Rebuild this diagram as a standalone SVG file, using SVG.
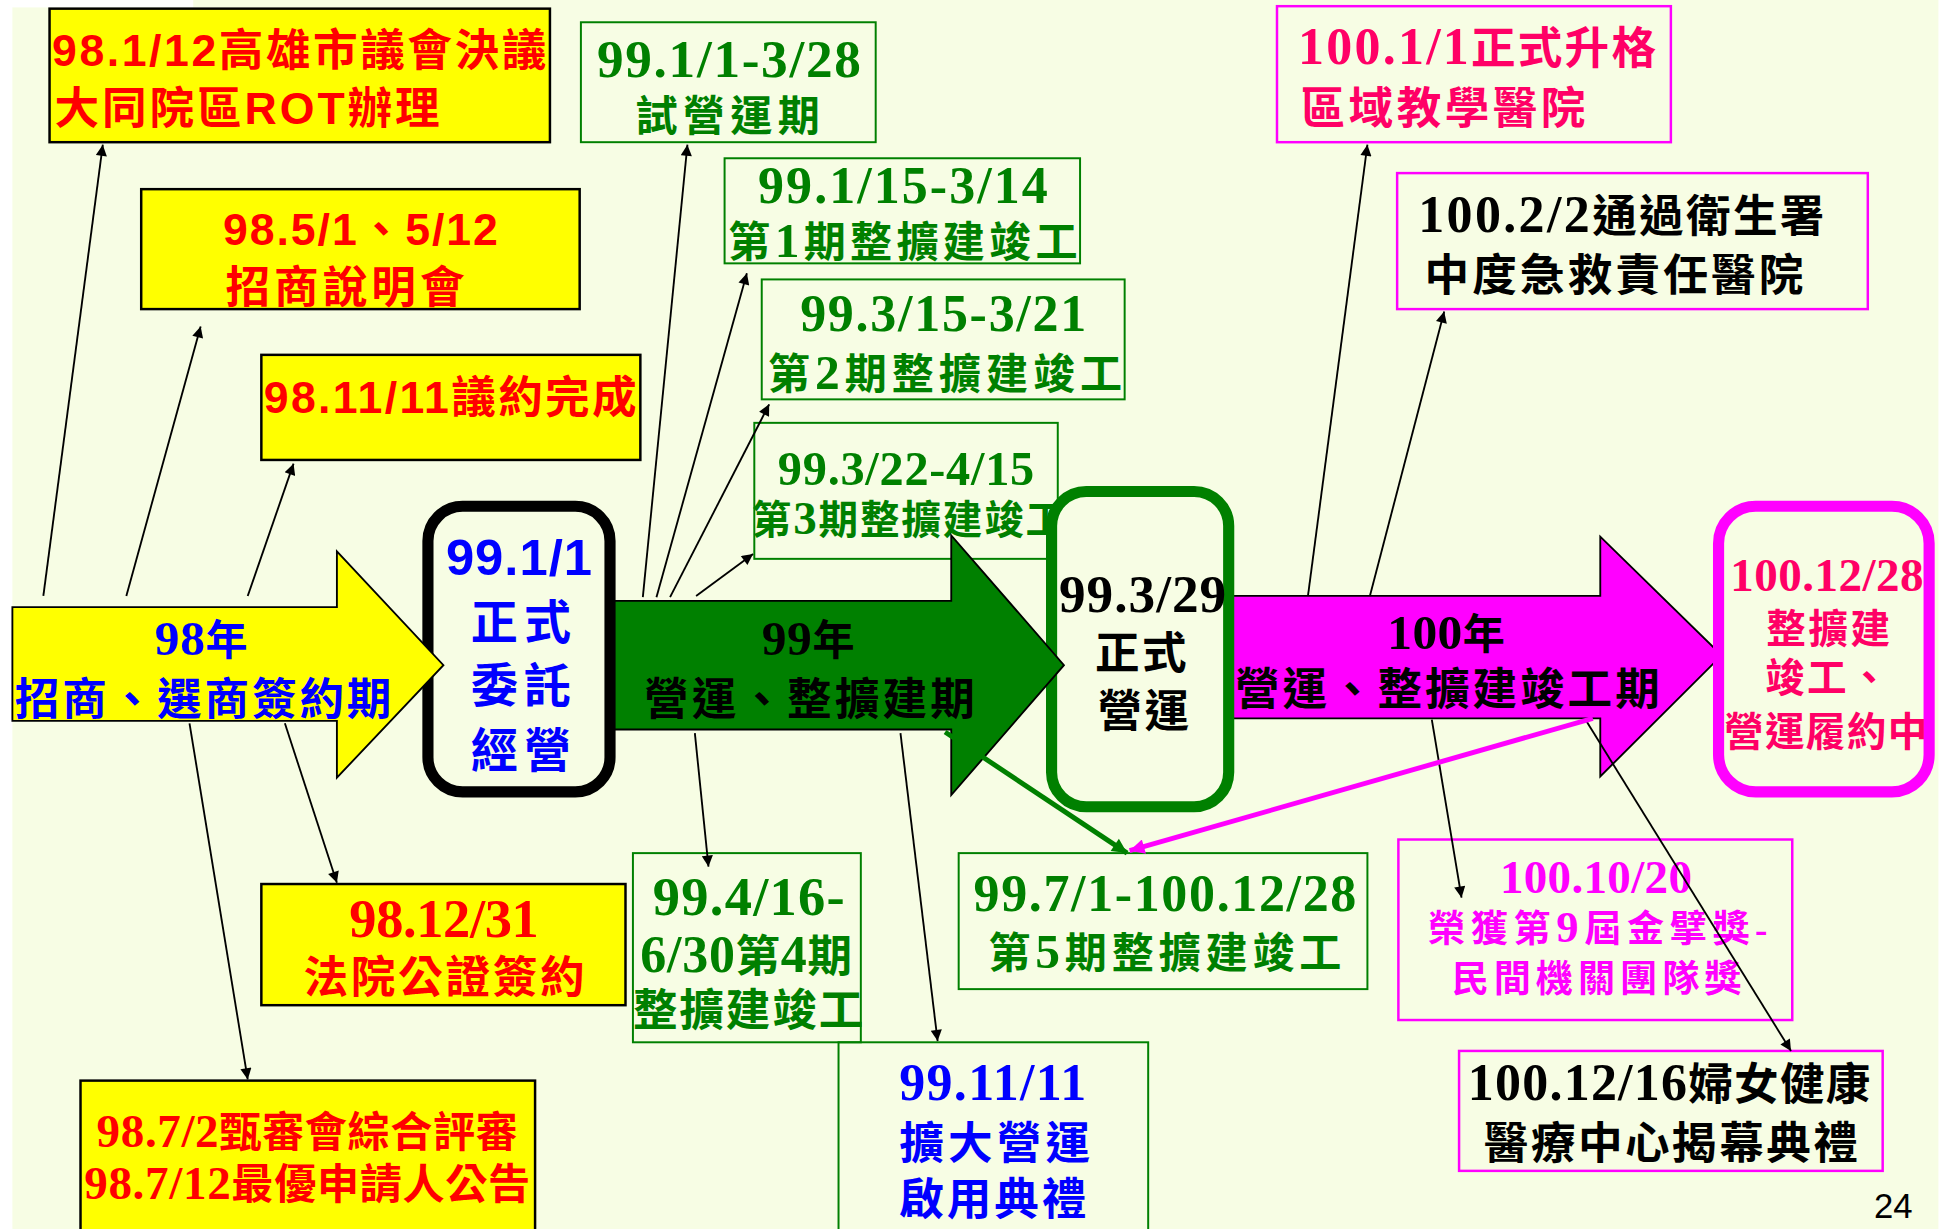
<svg xmlns="http://www.w3.org/2000/svg" width="1939" height="1229" viewBox="0 0 1939 1229">
<defs>
<style>
.sans{font-family:"Liberation Sans","Noto Sans CJK TC",sans-serif;font-weight:700}
.serif{font-family:"Liberation Serif","Noto Sans CJK TC",serif;font-weight:700}
.red{fill:#FF0000}.grn{fill:#008000}.blu{fill:#0000FF}.blk{fill:#000000}.mag{fill:#FF00FF}.pnk{fill:#FF0066}
.ybox{fill:#FFFF00;stroke:#000;stroke-width:2}
.gbox{fill:none;stroke:#008000;stroke-width:1.6}
.mbox{fill:none;stroke:#FF00FF;stroke-width:2}
.con{stroke:#000;stroke-width:1.5;fill:none;marker-end:url(#ah)}
</style>
<marker id="ah" viewBox="0 0 10 10" refX="10" refY="5" markerWidth="13" markerHeight="9" markerUnits="userSpaceOnUse" orient="auto"><path d="M0,0 L10,5 L0,10 z" fill="#000"/></marker>
<marker id="ahg" viewBox="0 0 10 10" refX="10" refY="5" markerWidth="16" markerHeight="12" markerUnits="userSpaceOnUse" orient="auto"><path d="M0,0 L10,5 L0,10 z" fill="#008000"/></marker>
<marker id="ahm" viewBox="0 0 10 10" refX="10" refY="5" markerWidth="16" markerHeight="12" markerUnits="userSpaceOnUse" orient="auto"><path d="M0,0 L10,5 L0,10 z" fill="#FF00FF"/></marker>
</defs>
<rect x="0" y="0" width="1939" height="1229" fill="#FFFFFF"/>
<g transform="scale(1.2386 1.2364)">
<rect x="10" y="0" width="1555" height="994" fill="#F7FDE4"/>
<rect x="0" y="0" width="156" height="6" fill="#FFFFFF"/>

<g id="nA"><rect class="ybox" x="40" y="7" width="404" height="108"/>
<text class="sans red" font-size="36" x="42" y="53" textLength="399">98.1/12高雄市議會決議</text>
<text class="sans red" font-size="36" x="44" y="100" textLength="311">大同院區ROT辦理</text></g>

<g id="nB"><rect class="ybox" x="114" y="153" width="354" height="97"/>
<text class="sans red" font-size="36" x="180" y="198" textLength="222">98.5/1、5/12</text>
<text class="sans red" font-size="36" x="182" y="245" textLength="193">招商說明會</text></g>

<g id="nC"><rect class="ybox" x="211" y="287" width="306" height="85"/>
<text class="sans red" font-size="36" x="213" y="334" textLength="301">98.11/11議約完成</text></g>

<g id="nD"><rect class="gbox" x="469" y="18" width="238" height="97"/>
<text class="serif grn" font-size="43" x="482" y="62" textLength="213">99.1/1-3/28</text>
<text class="serif grn" font-size="34" x="513" y="106" textLength="149">試營運期</text></g>

<g id="nE"><rect class="gbox" x="585" y="128" width="287" height="85"/>
<text class="serif grn" font-size="42" x="612" y="164" textLength="234">99.1/15-3/14</text>
<text class="serif grn" font-size="34" x="588" y="208" textLength="282">第<tspan font-size="40">1</tspan>期整擴建竣工</text></g>

<g id="nF"><rect class="gbox" x="615" y="226" width="293" height="97"/>
<text class="serif grn" font-size="42" x="646" y="268" textLength="231">99.3/15-3/21</text>
<text class="serif grn" font-size="34" x="620" y="315" textLength="286">第<tspan font-size="40">2</tspan>期整擴建竣工</text></g>

<g id="nG"><rect class="gbox" x="609" y="342" width="245" height="110"/>
<text class="serif grn" font-size="39" x="628" y="392" textLength="207">99.3/22-4/15</text>
<text class="serif grn" font-size="32" x="607" y="432" textLength="253">第<tspan font-size="38">3</tspan>期整擴建竣工</text></g>

<g id="nH"><rect class="mbox" x="1031" y="5" width="318" height="110"/>
<text class="serif pnk" font-size="36" x="1048" y="52" textLength="289"><tspan font-size="42">100.1/1</tspan>正式升格</text>
<text class="serif pnk" font-size="36" x="1050" y="100" textLength="230">區域教學醫院</text></g>

<g id="nI"><rect class="mbox" x="1128" y="140" width="380" height="110"/>
<text class="serif blk" font-size="36" x="1145" y="188" textLength="328"><tspan font-size="42">100.2/2</tspan>通過衛生署</text>
<text class="serif blk" font-size="36" x="1150" y="235" textLength="306">中度急救責任醫院</text></g>

<g id="nJ"><rect class="ybox" x="211" y="715" width="294" height="98"/>
<text class="serif red" font-size="44" x="282" y="758" textLength="153">98.12/31</text>
<text class="serif red" font-size="36" x="245" y="803" textLength="227">法院公證簽約</text></g>

<g id="nK"><rect class="ybox" x="65" y="874" width="367" height="125"/>
<text class="serif red" font-size="34" x="78" y="928" textLength="340"><tspan font-size="38">98.7/2</tspan>甄審會綜合評審</text>
<text class="serif red" font-size="34" x="68" y="970" textLength="360"><tspan font-size="38">98.7/12</tspan>最優申請人公告</text></g>

<g id="nL"><rect class="gbox" x="511" y="690" width="184" height="153"/>
<text class="serif grn" font-size="44" x="527" y="740" textLength="155">99.4/16-</text>
<text class="serif grn" font-size="36" x="517" y="786" textLength="171"><tspan font-size="42">6/30</tspan>第<tspan font-size="42">4</tspan>期</text>
<text class="serif grn" font-size="36" x="511" y="830" textLength="186">整擴建竣工</text></g>

<g id="nM"><rect class="gbox" x="677" y="843" width="250" height="160"/>
<text class="serif blu" font-size="42" x="726" y="890" textLength="151">99.11/11</text>
<text class="serif blu" font-size="36" x="726" y="937" textLength="154">擴大營運</text>
<text class="serif blu" font-size="36" x="726" y="983" textLength="151">啟用典禮</text></g>

<g id="nN"><rect class="gbox" x="774" y="690" width="330" height="110"/>
<text class="serif grn" font-size="42" x="786" y="737" textLength="309">99.7/1-100.12/28</text>
<text class="serif grn" font-size="34" x="798" y="783" textLength="285">第<tspan font-size="40">5</tspan>期整擴建竣工</text></g>

<g id="nO"><rect class="mbox" x="1129" y="679" width="318" height="146"/>
<text class="serif mag" font-size="38" x="1211" y="722" textLength="155">100.10/20</text>
<text class="serif mag" font-size="30" x="1153" y="762" textLength="274">榮獲第<tspan font-size="36">9</tspan>屆金擘獎-</text>
<text class="serif mag" font-size="30" x="1172" y="802" textLength="234">民間機關團隊獎</text></g>

<g id="nP"><rect class="mbox" x="1178" y="850" width="342" height="97"/>
<text class="serif blk" font-size="36" x="1185" y="890" textLength="325"><tspan font-size="42">100.12/16</tspan>婦女健康</text>
<text class="serif blk" font-size="36" x="1198" y="937" textLength="302">醫療中心揭幕典禮</text></g>

<g id="arrow100"><polygon points="995,482 1292,482 1292,434 1390,530 1292,628 1292,581 995,581" fill="#FF00FF" stroke="#000" stroke-width="1.5"/>
<text class="serif blk" font-size="34" x="1120" y="525" textLength="95"><tspan font-size="40">100</tspan>年</text>
<text class="serif blk" font-size="36" x="997" y="570" textLength="343">營運、整擴建竣工期</text></g>

<g id="n99329"><rect x="849" y="397.5" width="143" height="255" rx="28" fill="#F7FDE4" stroke="#008000" stroke-width="9"/>
<text class="serif blk" font-size="43" x="855" y="495" textLength="135">99.3/29</text>
<text class="serif blk" font-size="36" x="884" y="541" textLength="74">正式</text>
<text class="serif blk" font-size="36" x="886" y="588" textLength="74">營運</text></g>

<g id="arrow99"><polygon points="490,486 768,486 768,433 859,538 768,643 768,590 490,590" fill="#008000" stroke="#000" stroke-width="1.5"/>
<text class="serif blk" font-size="34" x="615" y="530" textLength="75"><tspan font-size="40">99</tspan>年</text>
<text class="serif blk" font-size="36" x="520" y="578" textLength="267">營運、整擴建期</text></g>

<g id="n991"><rect x="345.5" y="409.5" width="147" height="231" rx="28" fill="#F7FDE4" stroke="#000" stroke-width="9"/>
<text class="sans blu" font-size="41" x="360" y="465" textLength="118">99.1/1</text>
<text class="serif blu" font-size="38" x="380" y="517" textLength="81">正式</text>
<text class="serif blu" font-size="38" x="380" y="568" textLength="81">委託</text>
<text class="serif blu" font-size="38" x="380" y="620" textLength="81">經營</text></g>

<g id="arrow98"><polygon points="10,491 272,491 272,446 358,538 272,629 272,583 10,583" fill="#FFFF00" stroke="#000" stroke-width="1.5"/>
<text class="serif blu" font-size="34" x="125" y="530" textLength="75"><tspan font-size="40">98</tspan>年</text>
<text class="serif blu" font-size="36" x="12" y="578" textLength="304">招商、選商簽約期</text></g>

<g id="n1001228"><rect x="1387.5" y="409.5" width="170" height="231" rx="30" fill="#F7FDE4" stroke="#FF00FF" stroke-width="9"/>
<text class="serif pnk" font-size="38" x="1397" y="478" textLength="156">100.12/28</text>
<text class="serif pnk" font-size="32" x="1426" y="520" textLength="100">整擴建</text>
<text class="serif pnk" font-size="32" x="1425" y="560" textLength="100">竣工、</text>
<text class="serif pnk" font-size="32" x="1392" y="603" textLength="164">營運履約中</text></g>

<g id="connectors">
<line class="con" x1="35" y1="482" x2="83" y2="117"/>
<line class="con" x1="102" y1="482" x2="162" y2="264"/>
<line class="con" x1="200" y1="482" x2="237" y2="375"/>
<line class="con" x1="153" y1="585" x2="200" y2="873"/>
<line class="con" x1="230" y1="585" x2="272" y2="714"/>
<line class="con" x1="519" y1="483" x2="555" y2="117"/>
<line class="con" x1="530" y1="483" x2="603" y2="221"/>
<line class="con" x1="541" y1="483" x2="621" y2="327"/>
<line class="con" x1="562" y1="482" x2="608" y2="448"/>
<line class="con" x1="561" y1="593" x2="572" y2="701"/>
<line class="con" x1="727" y1="593" x2="757" y2="842"/>
<line class="con" x1="1056" y1="482" x2="1104" y2="117"/>
<line class="con" x1="1106" y1="482" x2="1166" y2="252"/>
<line class="con" x1="1156" y1="582" x2="1180" y2="726"/>
<line class="con" x1="1280" y1="582" x2="1446" y2="850"/>
<line x1="763" y1="592" x2="910" y2="690" stroke="#008000" stroke-width="4" marker-end="url(#ahg)"/>
<line x1="1286" y1="581" x2="912" y2="688" stroke="#FF00FF" stroke-width="4" marker-end="url(#ahm)"/>
</g>
<text font-family="Liberation Sans, sans-serif" font-size="28" x="1513" y="985" fill="#000">24</text>
</g>
</svg>
